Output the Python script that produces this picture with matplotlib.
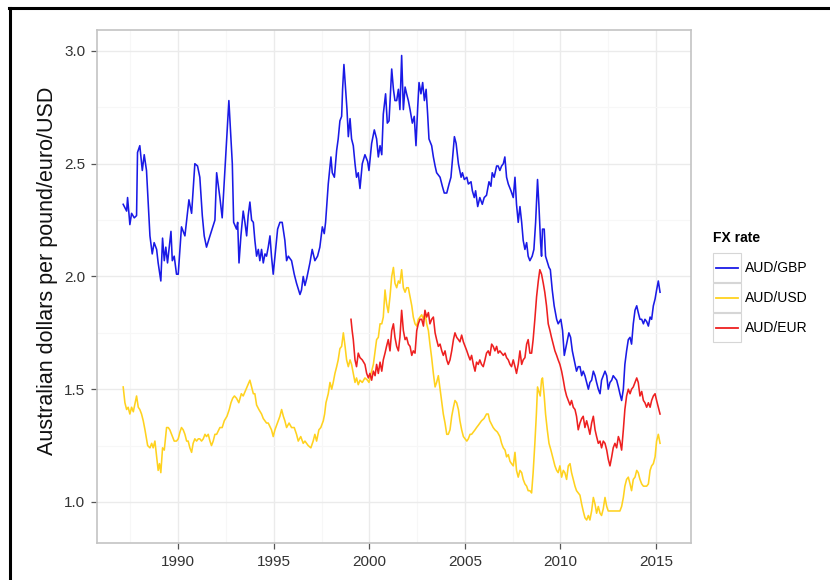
import matplotlib
matplotlib.use("Agg")
import matplotlib.pyplot as plt
from matplotlib.lines import Line2D
from matplotlib.patches import Rectangle

plt.rcParams['font.family'] = ['Liberation Sans', 'DejaVu Sans']

# ---- data (decimal year, AUD per unit) ----
gbp_years = [1987.12, 1987.30, 1987.35, 1987.47, 1987.56, 1987.70, 1987.82, 1987.87, 1987.99, 1988.12,
             1988.22, 1988.34, 1988.52, 1988.64, 1988.74, 1988.87, 1988.95, 1989.09, 1989.18, 1989.27,
             1989.35, 1989.44, 1989.62, 1989.69, 1989.79, 1989.91, 1990.00, 1990.17, 1990.35, 1990.56,
             1990.70, 1990.87, 1991.01, 1991.13, 1991.26, 1991.36, 1991.48, 1991.66, 1991.92, 1992.01,
             1992.18, 1992.30, 1992.48, 1992.65, 1992.83, 1992.90, 1993.05, 1993.11, 1993.18, 1993.28,
             1993.40, 1993.49, 1993.58, 1993.66, 1993.75, 1993.84, 1993.93, 1994.01, 1994.10, 1994.19,
             1994.27, 1994.36, 1994.45, 1994.54, 1994.62, 1994.71, 1994.80, 1994.88, 1994.97, 1995.06,
             1995.20, 1995.32, 1995.44, 1995.58, 1995.67, 1995.76, 1995.93, 1996.07, 1996.19, 1996.37,
             1996.45, 1996.54, 1996.63, 1996.72, 1996.89, 1997.01, 1997.15, 1997.29, 1997.41, 1997.54,
             1997.64, 1997.71, 1997.85, 1997.99, 1998.06, 1998.17, 1998.29, 1998.37, 1998.46, 1998.55,
             1998.60, 1998.67, 1998.76, 1998.83, 1998.90, 1998.99, 1999.07, 1999.16, 1999.25, 1999.33,
             1999.42, 1999.51, 1999.63, 1999.77, 1999.91, 1999.98, 2000.12, 2000.26, 2000.38, 2000.47,
             2000.56, 2000.65, 2000.73, 2000.85, 2000.94, 2001.03, 2001.17, 2001.26, 2001.34, 2001.43,
             2001.52, 2001.60, 2001.69, 2001.78, 2001.87, 2001.95, 2002.04, 2002.13, 2002.25, 2002.35,
             2002.44, 2002.53, 2002.60, 2002.70, 2002.79, 2002.88, 2002.97, 2003.05, 2003.12, 2003.26,
             2003.35, 2003.44, 2003.52, 2003.70, 2003.82, 2003.92, 2004.05, 2004.17, 2004.27, 2004.36,
             2004.45, 2004.54, 2004.66, 2004.80, 2004.87, 2004.97, 2005.10, 2005.18, 2005.32, 2005.39,
             2005.49, 2005.56, 2005.67, 2005.78, 2005.91, 2006.01, 2006.13, 2006.26, 2006.36, 2006.43,
             2006.53, 2006.66, 2006.74, 2006.83, 2006.92, 2007.01, 2007.09, 2007.18, 2007.27, 2007.41,
             2007.53, 2007.62, 2007.70, 2007.79, 2007.88, 2007.97, 2008.05, 2008.14, 2008.23, 2008.31,
             2008.40, 2008.52, 2008.61, 2008.70, 2008.80, 2008.87, 2008.96, 2009.01, 2009.06, 2009.15,
             2009.22, 2009.33, 2009.40, 2009.47, 2009.57, 2009.67, 2009.80, 2009.88, 2010.02, 2010.11,
             2010.20, 2010.32, 2010.44, 2010.53, 2010.62, 2010.72, 2010.84, 2010.93, 2011.02, 2011.11,
             2011.19, 2011.28, 2011.37, 2011.46, 2011.54, 2011.63, 2011.72, 2011.81, 2011.89, 2011.98,
             2012.07, 2012.15, 2012.24, 2012.33, 2012.42, 2012.50, 2012.59, 2012.68, 2012.76, 2012.85,
             2012.94, 2013.03, 2013.11, 2013.20, 2013.29, 2013.37, 2013.46, 2013.55, 2013.64, 2013.72,
             2013.81, 2013.90, 2013.99, 2014.07, 2014.16, 2014.25, 2014.34, 2014.42, 2014.51, 2014.60,
             2014.69, 2014.77, 2014.86, 2014.95, 2015.03, 2015.12, 2015.21]
gbp_rate = [2.32, 2.29, 2.35, 2.23, 2.28, 2.26, 2.27, 2.55, 2.58, 2.47,
            2.54, 2.47, 2.18, 2.10, 2.15, 2.12, 2.06, 1.98, 2.17, 2.07,
            2.13, 2.06, 2.20, 2.07, 2.09, 2.01, 2.01, 2.22, 2.18, 2.34,
            2.28, 2.50, 2.49, 2.44, 2.27, 2.18, 2.13, 2.18, 2.25, 2.46,
            2.35, 2.26, 2.53, 2.78, 2.50, 2.24, 2.21, 2.24, 2.06, 2.18,
            2.29, 2.24, 2.18, 2.27, 2.33, 2.25, 2.24, 2.16, 2.09, 2.12,
            2.07, 2.12, 2.06, 2.10, 2.09, 2.13, 2.18, 2.09, 2.01, 2.09,
            2.21, 2.24, 2.24, 2.16, 2.07, 2.09, 2.07, 2.01, 1.97, 1.92,
            1.94, 2.00, 1.96, 1.99, 2.06, 2.12, 2.07, 2.09, 2.13, 2.22,
            2.19, 2.24, 2.41, 2.53, 2.46, 2.44, 2.56, 2.61, 2.69, 2.71,
            2.83, 2.94, 2.83, 2.74, 2.62, 2.70, 2.61, 2.58, 2.50, 2.44,
            2.46, 2.39, 2.50, 2.54, 2.51, 2.47, 2.59, 2.65, 2.61, 2.53,
            2.58, 2.54, 2.72, 2.81, 2.68, 2.69, 2.92, 2.83, 2.78, 2.78,
            2.83, 2.74, 2.98, 2.74, 2.84, 2.81, 2.78, 2.74, 2.68, 2.71,
            2.58, 2.75, 2.86, 2.81, 2.86, 2.78, 2.83, 2.72, 2.61, 2.58,
            2.53, 2.49, 2.46, 2.44, 2.40, 2.37, 2.37, 2.41, 2.44, 2.53,
            2.62, 2.59, 2.50, 2.44, 2.46, 2.43, 2.44, 2.41, 2.42, 2.38,
            2.35, 2.38, 2.31, 2.35, 2.32, 2.35, 2.36, 2.42, 2.40, 2.46,
            2.44, 2.49, 2.49, 2.47, 2.49, 2.50, 2.53, 2.44, 2.41, 2.38,
            2.35, 2.44, 2.32, 2.24, 2.31, 2.24, 2.16, 2.12, 2.15, 2.09,
            2.07, 2.09, 2.12, 2.24, 2.43, 2.32, 2.15, 2.09, 2.21, 2.21,
            2.09, 2.06, 2.04, 2.03, 1.94, 1.87, 1.81, 1.79, 1.81, 1.76,
            1.65, 1.70, 1.75, 1.73, 1.67, 1.63, 1.58, 1.60, 1.60, 1.56,
            1.58, 1.56, 1.53, 1.50, 1.53, 1.54, 1.58, 1.56, 1.53, 1.50,
            1.48, 1.54, 1.56, 1.58, 1.56, 1.50, 1.53, 1.54, 1.56, 1.55,
            1.54, 1.51, 1.48, 1.45, 1.50, 1.61, 1.67, 1.72, 1.73, 1.70,
            1.79, 1.85, 1.87, 1.84, 1.81, 1.81, 1.79, 1.81, 1.80, 1.78,
            1.82, 1.81, 1.87, 1.90, 1.94, 1.98, 1.93]

usd_years = [1987.12, 1987.21, 1987.30, 1987.38, 1987.47, 1987.56, 1987.65, 1987.82, 1987.91, 1987.99,
             1988.08, 1988.17, 1988.26, 1988.40, 1988.52, 1988.61, 1988.69, 1988.78, 1988.87, 1988.95,
             1989.02, 1989.09, 1989.18, 1989.27, 1989.39, 1989.48, 1989.56, 1989.65, 1989.79, 1989.91,
             1990.00, 1990.09, 1990.17, 1990.26, 1990.35, 1990.44, 1990.52, 1990.61, 1990.70, 1990.78,
             1990.87, 1990.96, 1991.05, 1991.13, 1991.22, 1991.31, 1991.40, 1991.48, 1991.57, 1991.66,
             1991.74, 1991.83, 1991.92, 1992.01, 1992.18, 1992.30, 1992.41, 1992.55, 1992.67, 1992.76,
             1992.85, 1992.94, 1993.05, 1993.17, 1993.30, 1993.40, 1993.55, 1993.75, 1993.84, 1993.93,
             1994.01, 1994.10, 1994.22, 1994.36, 1994.45, 1994.62, 1994.71, 1994.88, 1994.97, 1995.06,
             1995.23, 1995.32, 1995.41, 1995.50, 1995.58, 1995.67, 1995.80, 1995.93, 1996.07, 1996.19,
             1996.28, 1996.41, 1996.54, 1996.63, 1996.80, 1996.94, 1997.06, 1997.15, 1997.24, 1997.36,
             1997.46, 1997.59, 1997.66, 1997.73, 1997.85, 1997.94, 1998.03, 1998.11, 1998.20, 1998.29,
             1998.37, 1998.46, 1998.55, 1998.64, 1998.73, 1998.81, 1998.90, 1998.99, 1999.07, 1999.16,
             1999.25, 1999.33, 1999.42, 1999.51, 1999.63, 1999.77, 1999.90, 1999.98, 2000.09, 2000.21,
             2000.30, 2000.38, 2000.47, 2000.56, 2000.65, 2000.73, 2000.82, 2000.90, 2000.99, 2001.08,
             2001.17, 2001.26, 2001.34, 2001.43, 2001.52, 2001.60, 2001.69, 2001.78, 2001.87, 2001.95,
             2002.04, 2002.13, 2002.22, 2002.30, 2002.39, 2002.48, 2002.56, 2002.65, 2002.74, 2002.83,
             2002.91, 2003.00, 2003.09, 2003.17, 2003.26, 2003.35, 2003.44, 2003.52, 2003.61, 2003.70,
             2003.79, 2003.87, 2003.96, 2004.05, 2004.13, 2004.22, 2004.31, 2004.40, 2004.48, 2004.57,
             2004.66, 2004.74, 2004.83, 2004.92, 2005.01, 2005.10, 2005.18, 2005.27, 2005.35, 2005.44,
             2005.53, 2005.61, 2005.70, 2005.87, 2006.00, 2006.13, 2006.22, 2006.30, 2006.36, 2006.48,
             2006.57, 2006.70, 2006.83, 2006.92, 2007.01, 2007.10, 2007.18, 2007.27, 2007.36, 2007.44,
             2007.53, 2007.62, 2007.70, 2007.79, 2007.88, 2007.97, 2008.05, 2008.14, 2008.23, 2008.31,
             2008.40, 2008.49, 2008.57, 2008.66, 2008.74, 2008.80, 2008.87, 2008.94, 2009.01, 2009.06,
             2009.15, 2009.22, 2009.31, 2009.40, 2009.50, 2009.62, 2009.71, 2009.80, 2009.88, 2009.97,
             2010.06, 2010.15, 2010.23, 2010.32, 2010.41, 2010.50, 2010.58, 2010.67, 2010.76, 2010.84,
             2010.93, 2011.02, 2011.11, 2011.19, 2011.28, 2011.37, 2011.46, 2011.54, 2011.63, 2011.72,
             2011.81, 2011.89, 2011.98, 2012.07, 2012.15, 2012.24, 2012.33, 2012.42, 2012.50, 2012.68,
             2012.85, 2013.03, 2013.11, 2013.20, 2013.29, 2013.37, 2013.46, 2013.55, 2013.64, 2013.72,
             2013.81, 2013.90, 2013.99, 2014.07, 2014.16, 2014.25, 2014.34, 2014.42, 2014.51, 2014.60,
             2014.69, 2014.77, 2014.86, 2014.95, 2015.03, 2015.12, 2015.21]
usd_rate = [1.51, 1.44, 1.41, 1.42, 1.39, 1.42, 1.40, 1.47, 1.42, 1.41,
            1.39, 1.36, 1.32, 1.25, 1.24, 1.26, 1.24, 1.27, 1.20, 1.14,
            1.17, 1.13, 1.24, 1.23, 1.33, 1.33, 1.32, 1.30, 1.27, 1.27,
            1.28, 1.31, 1.33, 1.32, 1.30, 1.27, 1.27, 1.24, 1.22, 1.26,
            1.28, 1.27, 1.28, 1.28, 1.27, 1.28, 1.30, 1.29, 1.30, 1.27,
            1.25, 1.27, 1.30, 1.30, 1.33, 1.33, 1.36, 1.38, 1.41, 1.44,
            1.46, 1.47, 1.46, 1.44, 1.48, 1.47, 1.50, 1.54, 1.51, 1.48,
            1.48, 1.43, 1.41, 1.39, 1.37, 1.35, 1.35, 1.32, 1.29, 1.32,
            1.36, 1.38, 1.41, 1.38, 1.36, 1.33, 1.35, 1.33, 1.33, 1.30,
            1.27, 1.29, 1.26, 1.27, 1.25, 1.24, 1.27, 1.30, 1.27, 1.32,
            1.33, 1.36, 1.39, 1.44, 1.48, 1.53, 1.50, 1.53, 1.57, 1.60,
            1.63, 1.68, 1.69, 1.75, 1.69, 1.63, 1.60, 1.63, 1.61, 1.57,
            1.53, 1.55, 1.52, 1.54, 1.53, 1.55, 1.54, 1.53, 1.57, 1.61,
            1.67, 1.72, 1.73, 1.79, 1.79, 1.82, 1.94, 1.88, 1.84, 1.91,
            2.00, 2.04, 1.97, 1.95, 1.98, 1.97, 2.03, 1.95, 1.93, 1.95,
            1.95, 1.91, 1.87, 1.82, 1.79, 1.78, 1.81, 1.82, 1.83, 1.81,
            1.84, 1.79, 1.76, 1.70, 1.64, 1.57, 1.51, 1.53, 1.56, 1.50,
            1.44, 1.39, 1.35, 1.30, 1.30, 1.32, 1.38, 1.42, 1.45, 1.44,
            1.41, 1.36, 1.32, 1.29, 1.28, 1.27, 1.28, 1.30, 1.30, 1.31,
            1.32, 1.33, 1.34, 1.36, 1.37, 1.39, 1.39, 1.36, 1.35, 1.33,
            1.32, 1.31, 1.29, 1.26, 1.24, 1.23, 1.20, 1.21, 1.18, 1.17,
            1.16, 1.22, 1.14, 1.11, 1.14, 1.13, 1.10, 1.08, 1.07, 1.05,
            1.05, 1.04, 1.13, 1.26, 1.39, 1.51, 1.49, 1.47, 1.54, 1.55,
            1.47, 1.39, 1.32, 1.26, 1.23, 1.19, 1.16, 1.14, 1.13, 1.16,
            1.11, 1.14, 1.13, 1.10, 1.16, 1.17, 1.13, 1.10, 1.07, 1.05,
            1.04, 1.03, 0.99, 0.96, 0.93, 0.92, 0.94, 0.92, 0.96, 1.02,
            0.99, 0.95, 0.98, 0.95, 0.94, 0.97, 1.02, 0.98, 0.96, 0.96,
            0.96, 0.96, 0.96, 0.98, 1.02, 1.07, 1.10, 1.11, 1.08, 1.05,
            1.10, 1.11, 1.14, 1.13, 1.10, 1.08, 1.07, 1.07, 1.07, 1.08,
            1.14, 1.16, 1.17, 1.20, 1.27, 1.30, 1.26]

eur_years = [1999.04, 1999.10, 1999.16, 1999.25, 1999.33, 1999.42, 1999.51, 1999.63, 1999.77, 1999.86,
             1999.95, 2000.03, 2000.12, 2000.21, 2000.30, 2000.38, 2000.47, 2000.56, 2000.65, 2000.73,
             2000.82, 2000.90, 2000.99, 2001.08, 2001.17, 2001.26, 2001.34, 2001.43, 2001.52, 2001.60,
             2001.69, 2001.78, 2001.87, 2001.95, 2002.04, 2002.13, 2002.22, 2002.30, 2002.39, 2002.48,
             2002.56, 2002.65, 2002.74, 2002.83, 2002.91, 2003.00, 2003.09, 2003.17, 2003.26, 2003.35,
             2003.44, 2003.52, 2003.61, 2003.70, 2003.79, 2003.87, 2003.96, 2004.05, 2004.13, 2004.22,
             2004.31, 2004.40, 2004.48, 2004.57, 2004.66, 2004.74, 2004.83, 2004.92, 2005.01, 2005.10,
             2005.18, 2005.27, 2005.35, 2005.44, 2005.53, 2005.61, 2005.70, 2005.78, 2005.87, 2005.96,
             2006.05, 2006.13, 2006.22, 2006.31, 2006.40, 2006.48, 2006.57, 2006.66, 2006.74, 2006.83,
             2006.92, 2007.01, 2007.10, 2007.18, 2007.27, 2007.36, 2007.44, 2007.53, 2007.62, 2007.70,
             2007.79, 2007.88, 2007.97, 2008.05, 2008.14, 2008.23, 2008.31, 2008.40, 2008.49, 2008.57,
             2008.66, 2008.75, 2008.84, 2008.92, 2009.01, 2009.10, 2009.18, 2009.27, 2009.36, 2009.45,
             2009.53, 2009.62, 2009.71, 2009.80, 2009.88, 2009.97, 2010.06, 2010.15, 2010.23, 2010.32,
             2010.41, 2010.50, 2010.58, 2010.67, 2010.76, 2010.84, 2010.93, 2011.02, 2011.11, 2011.19,
             2011.28, 2011.37, 2011.46, 2011.54, 2011.63, 2011.72, 2011.81, 2011.89, 2011.98, 2012.07,
             2012.15, 2012.24, 2012.33, 2012.42, 2012.50, 2012.59, 2012.68, 2012.76, 2012.85, 2012.94,
             2013.03, 2013.11, 2013.20, 2013.29, 2013.37, 2013.46, 2013.55, 2013.64, 2013.72, 2013.81,
             2013.90, 2013.99, 2014.07, 2014.16, 2014.25, 2014.34, 2014.42, 2014.51, 2014.60, 2014.69,
             2014.77, 2014.86, 2014.95, 2015.03, 2015.12, 2015.21]
eur_rate = [1.81, 1.76, 1.72, 1.63, 1.60, 1.66, 1.64, 1.63, 1.61, 1.57,
            1.55, 1.57, 1.54, 1.58, 1.56, 1.61, 1.57, 1.62, 1.58, 1.63,
            1.66, 1.69, 1.72, 1.67, 1.76, 1.79, 1.73, 1.69, 1.67, 1.73,
            1.85, 1.76, 1.72, 1.73, 1.70, 1.69, 1.65, 1.67, 1.66, 1.76,
            1.79, 1.81, 1.81, 1.78, 1.85, 1.82, 1.84, 1.79, 1.81, 1.82,
            1.75, 1.72, 1.69, 1.70, 1.67, 1.65, 1.67, 1.63, 1.61, 1.63,
            1.67, 1.72, 1.75, 1.73, 1.72, 1.71, 1.74, 1.71, 1.69, 1.67,
            1.65, 1.63, 1.65, 1.61, 1.58, 1.62, 1.61, 1.63, 1.61, 1.60,
            1.63, 1.66, 1.67, 1.65, 1.70, 1.69, 1.67, 1.69, 1.66, 1.67,
            1.66, 1.65, 1.66, 1.64, 1.63, 1.61, 1.60, 1.63, 1.60, 1.57,
            1.61, 1.67, 1.61, 1.63, 1.64, 1.70, 1.72, 1.66, 1.66, 1.72,
            1.81, 1.91, 1.98, 2.03, 2.01, 1.97, 1.93, 1.87, 1.79, 1.76,
            1.73, 1.70, 1.67, 1.65, 1.63, 1.61, 1.58, 1.54, 1.50, 1.47,
            1.45, 1.43, 1.45, 1.42, 1.41, 1.38, 1.32, 1.35, 1.37, 1.38,
            1.33, 1.36, 1.33, 1.30, 1.35, 1.38, 1.32, 1.29, 1.26, 1.27,
            1.24, 1.27, 1.26, 1.23, 1.19, 1.16, 1.20, 1.24, 1.26, 1.24,
            1.29, 1.27, 1.23, 1.32, 1.41, 1.47, 1.50, 1.48, 1.50, 1.51,
            1.53, 1.55, 1.53, 1.47, 1.49, 1.45, 1.44, 1.42, 1.44, 1.42,
            1.45, 1.47, 1.48, 1.45, 1.42, 1.39]

series_labels = ['AUD/GBP', 'AUD/USD', 'AUD/EUR']
series_colors = ['#1a1ae6', '#ffd21f', '#ee2020']
x_breaks = [1990, 1995, 2000, 2005, 2010, 2015]
y_breaks = [1.0, 1.5, 2.0, 2.5, 3.0]

W, H = 830, 580
fig = plt.figure(figsize=(W / 100, H / 100), dpi=100)
ax = fig.add_axes([97 / W, 1 - 543 / H, (691 - 97) / W, (543 - 30) / H])

ax.plot(gbp_years, gbp_rate, color=series_colors[0], lw=1.15, zorder=3)
ax.plot(usd_years, usd_rate, color=series_colors[1], lw=1.15, zorder=3)
ax.plot(eur_years, eur_rate, color=series_colors[2], lw=1.15, zorder=3)

ax.set_xlim(1985.75, 2016.83)
ax.set_ylim(0.818, 3.093)
ax.set_xticks(x_breaks)
ax.set_xticks([1987.5, 1992.5, 1997.5, 2002.5, 2007.5, 2012.5], minor=True)
ax.set_yticks(y_breaks)
ax.set_yticks([1.25, 1.75, 2.25, 2.75], minor=True)
ax.set_yticklabels(['%.1f' % v for v in y_breaks])
ax.grid(which='major', color='#ebebeb', lw=1.0, zorder=0)
ax.grid(which='minor', color='#f7f7f7', lw=0.8, zorder=0)
ax.tick_params(which='major', direction='out', length=4.5, width=0.9, color='#555555',
               labelsize=11, labelcolor='#333333', pad=4)
ax.tick_params(which='minor', length=0)
for sp in ax.spines.values():
    sp.set_color('#c4c4c4')
    sp.set_linewidth(1.2)
ax.set_ylabel('Australian dollars per pound/euro/USD', fontsize=15.5, color='#111111')
ax.yaxis.set_label_coords(-0.066, 0.53)

# legend drawn by hand (ggplot style keys with grey borders)
fig.text(713 / W, 1 - 238 / H, 'FX rate', fontsize=10, fontweight='bold',
         va='center', ha='left')
for i, (lab, col) in enumerate(zip(series_labels, series_colors)):
    top = 253 + i * 30
    fig.add_artist(Rectangle((713 / W, 1 - (top + 29) / H), 28 / W, 29 / H,
                             transform=fig.transFigure, facecolor='white',
                             edgecolor='#d6d6d6', lw=0.8))
    yc = 1 - (top + 14.5) / H
    fig.add_artist(Line2D([716 / W, 738 / W], [yc, yc], transform=fig.transFigure,
                          color=col, lw=1.3))
    fig.text(745 / W, yc, lab, fontsize=10, va='center', ha='left')

# outer black frame (screenshot edge)
fig.add_artist(Line2D([10 / W, 10 / W], [0, 1 - 8 / H], transform=fig.transFigure,
                      color='black', lw=2.2))
fig.add_artist(Line2D([9 / W, 1], [1 - 8 / H, 1 - 8 / H], transform=fig.transFigure,
                      color='black', lw=2.2))

fig.savefig('out.png', dpi=100)
